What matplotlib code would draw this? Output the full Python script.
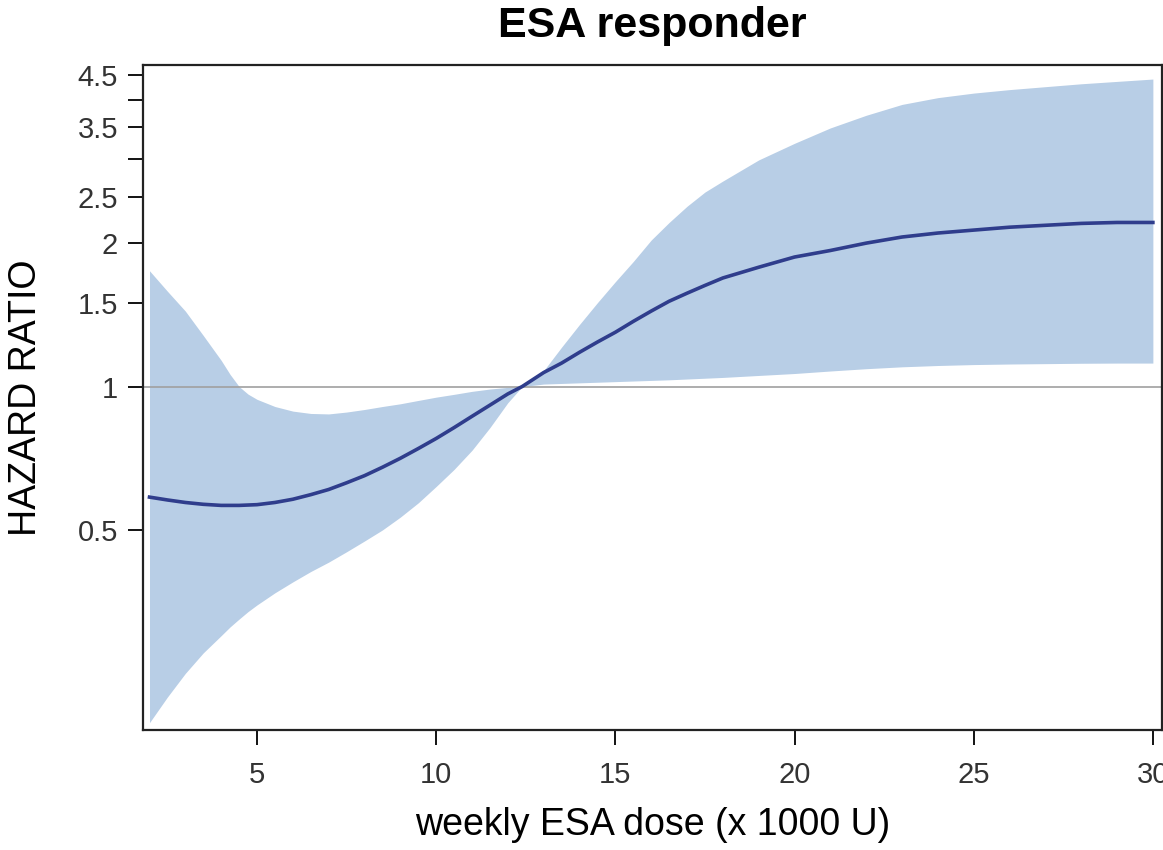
import numpy as np
import matplotlib
matplotlib.use("Agg")
import matplotlib.pyplot as plt

plt.rcParams['font.family'] = ['Liberation Sans', 'DejaVu Sans']

# dosis semanal (x 1000 U) y hazard ratio con IC 95%
dose = [2, 2.5, 3, 3.5, 4, 4.25, 4.5, 4.75, 5, 5.5, 6, 6.5, 7, 7.5, 8, 8.5,
        9, 9.5, 10, 10.5, 11, 11.5, 12, 12.4, 13, 13.5, 14, 14.5, 15, 15.5,
        16, 16.5, 17, 17.5, 18, 19, 20, 21, 22, 23, 24, 25, 26, 27, 28, 29, 30]
hr = [0.586, 0.578, 0.571, 0.566, 0.563, 0.563, 0.563, 0.564, 0.565, 0.571,
      0.580, 0.593, 0.608, 0.628, 0.650, 0.677, 0.707, 0.741, 0.778, 0.820,
      0.866, 0.914, 0.965, 1.0, 1.07, 1.12, 1.18, 1.24, 1.30, 1.37, 1.44,
      1.51, 1.57, 1.63, 1.69, 1.78, 1.87, 1.93, 2.00, 2.06, 2.10, 2.13, 2.16,
      2.18, 2.20, 2.21, 2.21]
hr_upper = [1.75, 1.585, 1.44, 1.28, 1.135, 1.06, 1.0, 0.964, 0.94, 0.908,
            0.888, 0.878, 0.876, 0.884, 0.895, 0.908, 0.92, 0.935, 0.95,
            0.963, 0.977, 0.988, 0.996, 1.0, 1.08, 1.21, 1.35, 1.50, 1.66,
            1.83, 2.03, 2.21, 2.39, 2.56, 2.70, 2.99, 3.24, 3.49, 3.71, 3.91,
            4.04, 4.13, 4.20, 4.26, 4.32, 4.37, 4.42]
hr_lower = [0.197, 0.223, 0.250, 0.276, 0.300, 0.313, 0.325, 0.337, 0.348,
            0.369, 0.389, 0.409, 0.428, 0.450, 0.474, 0.500, 0.532, 0.570,
            0.617, 0.670, 0.735, 0.82, 0.925, 1.0, 1.012, 1.015, 1.018, 1.021,
            1.024, 1.027, 1.03, 1.033, 1.037, 1.041, 1.045, 1.055, 1.065,
            1.078, 1.09, 1.10, 1.107, 1.112, 1.115, 1.117, 1.119, 1.12, 1.12]

ytick_vals = [0.5, 1, 1.5, 2, 2.5, 3, 3.5, 4, 4.5]
ytick_labels = ['0.5', '1', '1.5', '2', '2.5', '', '3.5', '', '4.5']
xtick_vals = [5, 10, 15, 20, 25, 30]

fig = plt.figure(figsize=(11.63, 8.5), dpi=100)
ax = fig.add_axes([0.123, 0.141, 0.876, 0.7825])

ax.fill_between(dose, hr_lower, hr_upper, color='#b8cee6', linewidth=0)
ax.axhline(1, color='#a0a0a0', linewidth=1.2)
ax.plot(dose, hr, color='#2f3d8c', linewidth=2.6)

ax.set_yscale('log')
ax.set_ylim(0.19, 4.73)
ax.set_xlim(1.82, 30.25)
ax.set_yticks(ytick_vals)
ax.set_yticklabels(ytick_labels)
ax.yaxis.set_minor_locator(matplotlib.ticker.NullLocator())
ax.set_xticks(xtick_vals)

ax.tick_params(axis='both', direction='out', length=11, width=1.3,
               labelsize=21, labelcolor='#333333', pad=7)
ax.tick_params(axis='x', pad=11)
for s in ax.spines.values():
    s.set_linewidth(1.6)
    s.set_color('#222222')

ax.set_xlabel('weekly ESA dose (x 1000 U)', fontsize=27, labelpad=13)
ax.set_ylabel('HAZARD RATIO', fontsize=27, labelpad=24)
ax.set_title('ESA responder', fontsize=31, fontweight='bold', pad=20)

fig.savefig('out.png', dpi=100)
